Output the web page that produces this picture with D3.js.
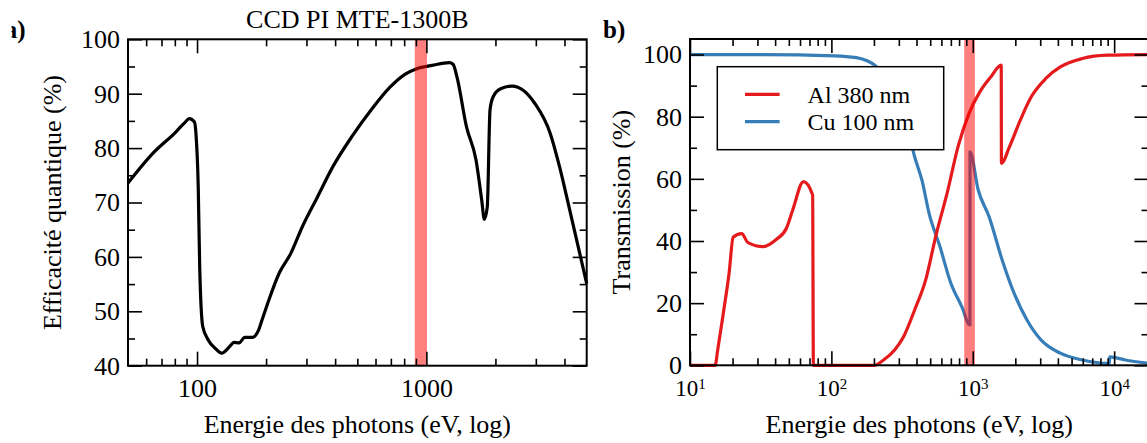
<!DOCTYPE html>
<html><head><meta charset="utf-8">
<script src="https://cdn.jsdelivr.net/npm/d3@7"></script>
<style>
html,body{margin:0;padding:0;background:#fff;}
svg{display:block;font-family:"Liberation Serif","Times New Roman",serif;}
</style></head>
<body>
<svg id="c" width="1147" height="443"></svg>
<script>
// ---------- DATA ----------
// Panel a: CCD quantum efficiency (%) vs photon energy (eV)
const ccdEnergy = [50,64,81,88,92.6,97.4,98.9,101.2,102.7,105.9,112,120,128,138.6,145,152.5,161.5,174.5,184.8,192,203,228,256,287.5,335,390,473,574,694,809,908,1059,1259,1307,1359,1496,1646,1743,1789,1843,1894,1953,2107,2364,2651,2972,3467,3811,4186,5000];
const ccdQE     = [73.6,79.0,83.0,84.6,85.4,84.8,82.7,72.9,58.2,47.2,44.7,43.2,42.3,43.5,44.3,44.2,45.2,45.2,46.4,48.4,51.4,57.0,60.6,65.5,71.0,76.5,82.1,87.0,91.2,93.6,94.6,95.2,95.7,95.4,93.1,83.9,77.8,70.4,66.9,69.2,87.0,89.4,90.9,91.4,90.6,88.2,82.7,76.5,69.2,55.1];
const bandA = [890, 1006];

// Panel b: filter transmission (%) vs photon energy (eV)
const alEnergy = [10,15.06,15.7,17.2,18.9,20.2,23.2,25.7,33.1,40.7,48.1,53.2,63.5,73.7,74.6,105,202,234,280,324,388,464,553,658,786,940,1122,1341,1590,1595,1817,2169,2593,3287,4160,5948,8962,17500];
const alTrans  = [0,0,4.9,16.7,29.6,41.2,42.4,39.5,38.2,40.5,44.1,49.9,59.1,54.8,0,0,0,1.7,4.9,9.2,17.8,27.4,42.4,55.3,70.3,81.0,88.0,92.8,96.6,65.0,70.3,78.9,86.4,92.3,96.0,98.7,99.8,100];
const cuEnergy = [10,32,105,150,179,202,241,288,345,388,437,491,586,700,836,955,956,1093,1305,1614,1921,2418,3049,4160,5948,9250,9300,12000,17500];
const cuTrans  = [100,100,99.6,99.0,98.0,96.6,92.8,86.4,76.7,67.1,59.6,48.9,38.2,26.4,18.9,13.0,68.7,56.4,47.8,33.9,24.2,14.6,8.1,3.9,1.7,0.6,2.7,1.7,0.6];
const bandB = [870, 1035];

const seriesNames = ["Al 380 nm", "Cu 100 nm"];
const seriesColors = ["#e41a1c", "#377eb8"];

const aMajorX = [100, 1000];
const aMinorX = [60,70,80,90,200,300,400,500,600,700,800,900,2000,3000,4000];
const aMajorY = [40,50,60,70,80,90,100];
const aMinorY = [45,55,65,75,85,95];
const bMajorX = [10,100,1000,10000];
const bMinorX = [20,30,40,50,60,70,80,90,200,300,400,500,600,700,800,900,2000,3000,4000,5000,6000,7000,8000,9000];
const bMajorY = [0,20,40,60,80,100];
const bMinorY = [10,30,50,70,90];

// ---------- DRAW ----------
const svg = d3.select("#c");
const FS = 26;

const xa = d3.scaleLog().domain([50,5000]).range([128,586.7]);
const ya = d3.scaleLinear().domain([40,100]).range([365.7,39.3]);
const xb = d3.scaleLog().domain([10,17500]).range([690,1148.5]);
const yb = d3.scaleLinear().domain([0,105]).range([365.3,39]);

function ticks(x, y, xMaj, xMin, yMaj, yMin, xFmt, yFmt, xPad) {
  const [x0,x1] = x.range(), [y0,y1] = y.range();
  const g = svg.append("g");
  const style = s => { s.select(".domain").remove(); s.selectAll(".tick line").attr("stroke","#000").attr("stroke-width",1.6); };
  g.append("g").attr("class","xlab").attr("transform",`translate(0,${y0})`)
    .call(d3.axisBottom(x).tickValues(xMaj).tickSizeInner(-14).tickSizeOuter(0).tickPadding(xPad).tickFormat(xFmt)).call(style);
  g.append("g").attr("transform",`translate(0,${y0})`)
    .call(d3.axisBottom(x).tickValues(xMin).tickSizeInner(-7).tickSizeOuter(0).tickFormat("")).call(style);
  g.append("g").attr("transform",`translate(0,${y1})`)
    .call(d3.axisTop(x).tickValues(xMaj).tickSizeInner(-14).tickSizeOuter(0).tickFormat("")).call(style);
  g.append("g").attr("transform",`translate(0,${y1})`)
    .call(d3.axisTop(x).tickValues(xMin).tickSizeInner(-7).tickSizeOuter(0).tickFormat("")).call(style);
  g.append("g").attr("transform",`translate(${x0},0)`)
    .call(d3.axisLeft(y).tickValues(yMaj).tickSizeInner(-14).tickSizeOuter(0).tickPadding(8).tickFormat(yFmt)).call(style);
  g.append("g").attr("transform",`translate(${x0},0)`)
    .call(d3.axisLeft(y).tickValues(yMin).tickSizeInner(-7).tickSizeOuter(0).tickFormat("")).call(style);
  g.append("g").attr("transform",`translate(${x1},0)`)
    .call(d3.axisRight(y).tickValues(yMaj).tickSizeInner(-14).tickSizeOuter(0).tickFormat("")).call(style);
  g.append("g").attr("transform",`translate(${x1},0)`)
    .call(d3.axisRight(y).tickValues(yMin).tickSizeInner(-7).tickSizeOuter(0).tickFormat("")).call(style);
  g.selectAll("text").attr("font-family",'"Liberation Serif",serif').attr("font-size",FS).attr("fill","#000");
  g.append("rect").attr("x",x0).attr("y",y1).attr("width",x1-x0).attr("height",y0-y1)
    .attr("fill","none").attr("stroke","#000").attr("stroke-width",2);
  return g;
}

// ----- Panel a -----
const lineA = d3.line().x((d,i)=>xa(ccdEnergy[i])).y(d=>ya(d)).curve(d3.curveMonotoneX);
svg.append("path").attr("d", lineA(ccdQE)).attr("fill","none").attr("stroke","#000")
  .attr("stroke-width",3.2).attr("stroke-linejoin","round");
svg.append("rect").attr("x",xa(bandA[0])).attr("y",ya.range()[1])
  .attr("width",xa(bandA[1])-xa(bandA[0])).attr("height",ya.range()[0]-ya.range()[1])
  .attr("fill","#ff0000").attr("opacity",0.5);
ticks(xa, ya, aMajorX, aMinorX, aMajorY, aMinorY, d3.format("d"), d3.format("d"), 13);

svg.append("text").attr("x",(xa.range()[0]+xa.range()[1])/2).attr("y",28)
  .attr("text-anchor","middle").attr("font-size",FS).text("CCD PI MTE-1300B");
svg.append("text").attr("x",(xa.range()[0]+xa.range()[1])/2).attr("y",433)
  .attr("text-anchor","middle").attr("font-size",FS).text("Energie des photons (eV, log)");
svg.append("text").attr("transform",`translate(61,${(ya.range()[0]+ya.range()[1])/2}) rotate(-90)`)
  .attr("text-anchor","middle").attr("font-size",FS).text("Efficacité quantique (%)");
svg.append("text").attr("x",25.5).attr("y",38.3).attr("text-anchor","end")
  .attr("font-size",25).attr("font-weight","bold").text("a)");
svg.append("rect").attr("x",0).attr("y",0).attr("width",11.5).attr("height",60).attr("fill","#fff");

// ----- Panel b -----
const lineB = (E) => d3.line().x((d,i)=>xb(E[i])).y(d=>yb(d)).curve(d3.curveMonotoneX);
svg.append("path").attr("d", lineB(cuEnergy)(cuTrans)).attr("fill","none").attr("stroke",seriesColors[1])
  .attr("stroke-width",3.2).attr("stroke-linejoin","round");
svg.append("path").attr("d", lineB(alEnergy)(alTrans)).attr("fill","none").attr("stroke",seriesColors[0])
  .attr("stroke-width",3.2).attr("stroke-linejoin","round");
svg.append("rect").attr("x",xb(bandB[0])).attr("y",yb.range()[1])
  .attr("width",xb(bandB[1])-xb(bandB[0])).attr("height",yb.range()[0]-yb.range()[1])
  .attr("fill","#ff0000").attr("opacity",0.5);
const gb = ticks(xb, yb, bMajorX, bMinorX, bMajorY, bMinorY, () => "10", d3.format("d"), 16);
gb.select(".xlab").selectAll("text")
  .attr("font-size",23).attr("dy","0.62em")
  .each(function(d){
    d3.select(this).append("tspan").attr("dy","-0.45em").attr("font-size",15).text(Math.round(Math.log10(d)));
  });

svg.append("text").attr("x",(xb.range()[0]+xb.range()[1])/2).attr("y",433)
  .attr("text-anchor","middle").attr("font-size",FS).text("Energie des photons (eV, log)");
svg.append("text").attr("transform",`translate(630,${(yb.range()[0]+yb.range()[1])/2}) rotate(-90)`)
  .attr("text-anchor","middle").attr("font-size",FS).text("Transmission (%)");
svg.append("text").attr("x",603).attr("y",38).attr("font-size",25).attr("font-weight","bold").text("b)");

// legend
const lg = svg.append("g");
lg.append("rect").attr("x",717.3).attr("y",66.7).attr("width",226.4).attr("height",83)
  .attr("fill","#fff").attr("stroke","#000").attr("stroke-width",1.5);
seriesNames.forEach((n,i)=>{
  const yy = 94.3 + i*27.4;
  lg.append("line").attr("x1",745).attr("x2",779.6).attr("y1",yy).attr("y2",yy)
    .attr("stroke",seriesColors[i]).attr("stroke-width",3.2);
  lg.append("text").attr("x",807.6).attr("y",yy+8.5).attr("font-size",24).text(n);
});
</script>
</body></html>
